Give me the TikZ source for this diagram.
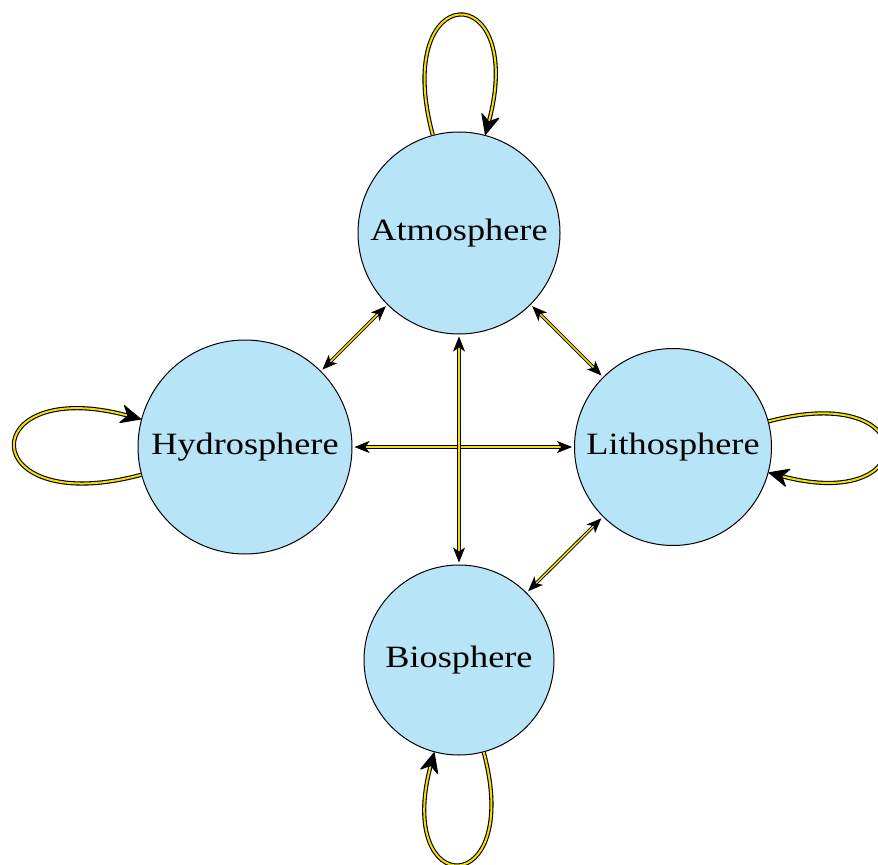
\documentclass[tikz,border=0pt]{standalone}
\usepackage{fontspec}
\setmainfont[FakeStretch=1.17]{Liberation Serif}
\usetikzlibrary{arrows.meta}
\definecolor{spherefill}{RGB}{184,228,248}
\definecolor{linkgold}{RGB}{245,222,0}
\tikzset{
  sph/.style={circle, draw=black, line width=0.5pt, fill=spherefill, inner sep=0pt,
    font=\fontsize{15.5pt}{18pt}\selectfont},
  conn/.style={draw=black, line width=0.45pt, double=linkgold, double distance=0.75pt,
    {Stealth[length=7.5pt,width=6pt,inset=2pt]}-{Stealth[length=7.5pt,width=6pt,inset=2pt]},
    shorten <=1pt, shorten >=1pt},
  loopline/.style={draw=black, line width=0.55pt, double=linkgold, double distance=1pt,
    -{Stealth[length=11pt,width=10pt,inset=3.5pt,round]}}
}
\begin{document}
\begin{tikzpicture}[x=0.5pt,y=0.5pt]
\useasboundingbox (0,0) rectangle (878,864);
\node[sph, minimum size=101pt] (A) at (459,631) {Atmosphere};
\node[sph, minimum size=107pt] (H) at (245,417) {Hydrosphere};
\node[sph, minimum size=98.5pt] (L) at (673,417) {Lithosphere};
\node[sph, minimum size=95pt] (B) at (459,204) {Biosphere};
% straight connectors
\draw[conn] (A) -- (H);
\draw[conn] (A) -- (L);
\draw[conn] (B) -- (L);
\draw[conn] (H) -- (L);
\draw[conn] (A) -- (B);
% loops
\draw[loopline] (A.105) .. controls +(105:82pt) and +(75:82pt) .. (A.75);
\draw[loopline] (H.195) .. controls +(195:86.7pt) and +(165:86.7pt) .. (H.165);
\draw[loopline] (L.15) .. controls +(15:79.8pt) and +(-15:79.8pt) .. (L.-15);
\draw[loopline] (B.285) .. controls +(285:77pt) and +(255:77pt) .. (B.255);
\end{tikzpicture}
\end{document}
